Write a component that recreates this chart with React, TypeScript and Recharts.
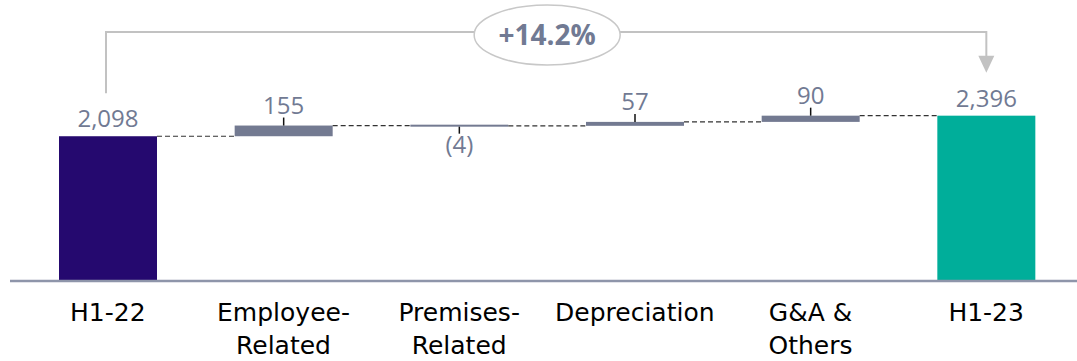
import { ComposedChart, Bar, XAxis, YAxis } from "recharts";

// waterfall inputs
const categories = ["H1-22", "Employee-Related", "Premises-Related", "Depreciation", "G&A & Others", "H1-23"];
const tickLines = [["H1-22"], ["Employee-", "Related"], ["Premises-", "Related"], ["Depreciation"], ["G&A &", "Others"], ["H1-23"]];
const values = [2098, 155, -4, 57, 90, 2396];
const kinds = ["total", "delta", "delta", "delta", "delta", "total"];

const COLORS: Record<string, string> = {
    start: "#25096f",
    end: "#00ae9a",
    delta: "#737a91",
};

const LABEL_COLOR = "#717a93";
const FONT = "'Open Sans', sans-serif";
const CAT_FONT = "'DejaVu Sans', sans-serif";

const W = 1077;
const H = 361;
const MARGIN = { top: 74, right: 0, left: 10, bottom: 0 };
const PAD_LEFT = 10;
const PAD_RIGHT = 3;
const STEP = (W - MARGIN.left - MARGIN.right - PAD_LEFT - PAD_RIGHT) / categories.length;

let running = 0;
const rows = categories.map((name, i) => {
    const v = values[i];
    let lo: number, hi: number, end: number;
    if (kinds[i] === "total") {
        lo = 0;
        hi = v;
        end = v;
    } else {
        lo = Math.min(running, running + v);
        hi = Math.max(running, running + v);
        end = running + v;
    }
    running = end;
    const color = i === 0 ? COLORS.start : kinds[i] === "total" ? COLORS.end : COLORS.delta;
    return { name, value: v, kind: kinds[i], range: [lo, hi], color, neg: v < 0 };
});

const fmt = (v: number, kind: string) => {
    const s = Math.abs(v).toLocaleString("en-US");
    return kind === "delta" && v < 0 ? `(${s})` : s;
};

const pct = ((values[values.length - 1] / values[0] - 1) * 100).toFixed(1);

// first bar top, set while rendering bar 0
let firstTop = 136;

function WaterfallShape(props: any) {
    const { x, width, payload, index } = props;
    let y = props.y;
    let h = props.height;
    if (h < 0) {
        y = y + h;
        h = -h;
    }
    if (index === 0) firstTop = y;
    const cx = x + width / 2;
    const isTotal = payload.kind === "total";
    const last = index === categories.length - 1;
    // level where the running total sits after this bar
    const endY = isTotal ? y : payload.neg ? y + h : y;
    const drawH = Math.max(h, 2);
    const drawY = payload.neg && !isTotal ? y - (drawH - h) / 2 : y;

    return (
        <g>
            <rect x={x} y={drawY} width={width} height={drawH} fill={payload.color} />
            {!last && (
                <line
                    x1={x + width}
                    y1={endY}
                    x2={x + STEP}
                    y2={endY}
                    stroke="#333"
                    strokeWidth={1.2}
                    strokeDasharray="5 3"
                />
            )}
            {isTotal ? (
                <text x={cx} y={y - 9} textAnchor="middle" fontSize={24} fill={LABEL_COLOR} fontFamily={FONT}>
                    {fmt(payload.value, payload.kind)}
                </text>
            ) : payload.neg ? (
                <g>
                    <line x1={cx} y1={drawY + drawH} x2={cx} y2={drawY + drawH + 7} stroke="#111" strokeWidth={1.5} />
                    <text x={cx} y={drawY + drawH + 26} textAnchor="middle" fontSize={24} fill={LABEL_COLOR} fontFamily={FONT}>
                        {fmt(payload.value, payload.kind)}
                    </text>
                </g>
            ) : (
                <g>
                    <line x1={cx} y1={y} x2={cx} y2={y - 8} stroke="#111" strokeWidth={1.5} />
                    <text x={cx} y={y - 12} textAnchor="middle" fontSize={24} fill={LABEL_COLOR} fontFamily={FONT}>
                        {fmt(payload.value, payload.kind)}
                    </text>
                </g>
            )}
            {last && <Bracket x2={cx} x1={cx - STEP * (categories.length - 1)} y1={firstTop} y2={y} />}
        </g>
    );
}

// growth bracket from first total to last total
function Bracket({ x1, x2, y1, y2 }: { x1: number; x2: number; y1: number; y2: number }) {
    const top = 32;
    const mid = (x1 + x2) / 2;
    const startBottom = y1 - 43;
    const tip = y2 - 43;
    return (
        <g>
            <polyline
                points={`${x1 - 2},${startBottom} ${x1 - 2},${top} ${x2},${top} ${x2},${tip - 16}`}
                fill="none"
                stroke="#c2c2c2"
                strokeWidth={2}
            />
            <polygon points={`${x2 - 8},${tip - 17} ${x2 + 8},${tip - 17} ${x2},${tip}`} fill="#c2c2c2" />
            <ellipse cx={mid} cy={35} rx={73} ry={30} fill="#fff" stroke="#c8c8c8" strokeWidth={1.5} />
            <text
                x={mid}
                y={45}
                textAnchor="middle"
                fontSize={28}
                fontWeight={700}
                fill={LABEL_COLOR}
                fontFamily={FONT}
            >
                {`+${pct}%`}
            </text>
        </g>
    );
}

function CategoryTick(props: any) {
    const { x, y, index } = props;
    const lines = tickLines[index] ?? [props.payload.value];
    return (
        <g>
            {lines.map((l: string, i: number) => (
                <text
                    key={i}
                    x={x}
                    y={y + 40 + i * 33}
                    textAnchor="middle"
                    fontSize={25}
                    fill="#000"
                    fontFamily={CAT_FONT}
                >
                    {l}
                </text>
            ))}
        </g>
    );
}

export default function App() {
    return (
        <div style={{ position: "absolute", left: 0, top: 0, width: W, height: H, background: "#fff" }}>
            <ComposedChart width={W} height={H} data={rows} margin={MARGIN}>
                <XAxis
                    dataKey="name"
                    height={80}
                    axisLine={{ stroke: "#8e95aa", strokeWidth: 2.5 }}
                    tickLine={false}
                    tickSize={0}
                    tickMargin={0}
                    interval={0}
                    padding={{ left: PAD_LEFT, right: PAD_RIGHT }}
                    tick={<CategoryTick />}
                />
                <YAxis hide domain={[0, 3000]} />
                <Bar dataKey="range" barSize={98} isAnimationActive={false} shape={<WaterfallShape />} />
            </ComposedChart>
        </div>
    );
}
